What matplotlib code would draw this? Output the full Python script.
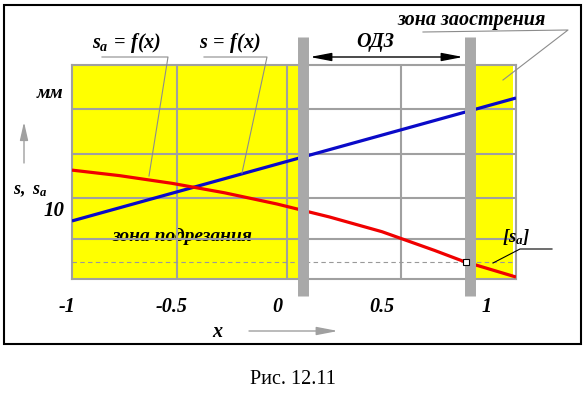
import matplotlib
matplotlib.use("Agg")
import numpy as np
import matplotlib.pyplot as plt
import matplotlib.transforms as mtrans
from matplotlib.lines import Line2D
from matplotlib.patches import Rectangle, FancyArrowPatch

# ---------------- data ----------------
tick_values = [-1, -0.5, 0, 0.5, 1]
tick_labels = ["-1", "-0.5", "0", "0.5", "1"]
x_grid = [-0.476, 0.048, 0.590]
y_grid = [14.64, 12.59, 10.59, 8.73]
x_limits = [-0.976, 1.138]
y_limits = [6.91, 16.64]

x_s = [-0.976, 1.138]
s_vals = [9.55, 15.14]

x_sa = [-0.976, -0.75, -0.5, -0.25, 0.0, 0.25, 0.5, 0.75, 0.886, 1.138]
sa_vals = [11.86, 11.61, 11.26, 10.83, 10.32, 9.73, 9.06, 8.21, 7.72, 7.0]

sa_allow = 7.68
x_odz = [0.126, 0.917]
y_label_value = 10

# ---------------- style ----------------
W, H = 586, 396
plt.rcParams['mathtext.fontset'] = 'custom'
plt.rcParams['mathtext.rm'] = 'Liberation Serif:bold:italic'
plt.rcParams['mathtext.it'] = 'Liberation Serif:bold:italic'
plt.rcParams['mathtext.bf'] = 'Liberation Serif:bold:italic'
BI = dict(family='Liberation Serif', weight='bold', style='italic')
GRID = '#A0A0A0'
BAR = '#A9A9A9'
YEL = '#FFFF00'


def fx(px):
    return px / W


def fy(py):
    return 1 - py / H


fig = plt.figure(figsize=(W / 100, H / 100), dpi=100)
ax = fig.add_axes([fx(72), fy(279), (516 - 72) / W, (279 - 65) / H])
ax.set_xlim(*x_limits)
ax.set_ylim(*y_limits)
ax.set_xticks([])
ax.set_yticks([])
for sp in ax.spines.values():
    sp.set_color(GRID)
    sp.set_linewidth(1.5)
    sp.set_zorder(2)

half_bar = 0.026
ax.axvspan(x_limits[0], x_odz[0] - half_bar, color=YEL, zorder=0, lw=0)
ax.axvspan(x_odz[1] + half_bar, x_limits[1] - 0.012, color=YEL, zorder=0, lw=0)

ax.text(-0.45, y_grid[3] - 0.09, "зона подрезания",
        ha='center', va='baseline', fontsize=14, zorder=1.5, **BI)

for xg in x_grid:
    ax.axvline(xg, color=GRID, lw=1.5, zorder=2)
for yg in y_grid:
    ax.axhline(yg, color=GRID, lw=1.5, zorder=2)

ax.axhline(sa_allow, xmax=(513 - 72) / 444, color='#999999', lw=0.8,
           dashes=(4, 3), zorder=2.5)

ax.plot(x_s, s_vals, color='#0A0AC8', lw=2.3, zorder=3, solid_capstyle='butt')
ax.plot(x_sa, sa_vals, color='#F00000', lw=2.3, zorder=3, solid_capstyle='butt')

for xo in x_odz:
    ax.axvline(xo, ymin=(279 - 296) / 214, ymax=(279 - 37) / 214, color=BAR,
               lw=7.9, zorder=4, clip_on=False, solid_capstyle='butt')

x_mark = np.interp(sa_allow, sa_vals[::-1], x_sa[::-1])
ax.plot([x_mark], [sa_allow], marker='s', ms=4, mfc='white', mec='black',
        mew=0.8, zorder=5, clip_on=False)

# tick labels
tr_x = mtrans.blended_transform_factory(ax.transData, fig.transFigure)
for v, lab in zip(tick_values, tick_labels):
    ax.text(v, fy(307), lab, transform=tr_x, ha='center', va='center',
            fontsize=14.5, **BI)

tr_y = mtrans.blended_transform_factory(fig.transFigure, ax.transData)
ax.text(fx(54), y_label_value, "10", transform=tr_y,
        ha='center', va='center', fontsize=15, **BI)

# texts in figure coordinates
fig.text(fx(127), fy(43), r"$s_a\,=\,f(x)$", ha='center', va='center', fontsize=14.5)
fig.text(fx(230), fy(43), r"$s\,=\,f(x)$", ha='center', va='center', fontsize=14.5)
fig.text(fx(375), fy(42), "ОДЗ", ha='center', va='center', fontsize=14.5, **BI)
fig.text(fx(472), fy(20), "зона заострения", ha='center', va='center', fontsize=14.5, **BI)
fig.text(fx(50), fy(93), "мм", ha='center', va='center', fontsize=14, **BI)
fig.text(fx(13), fy(190), r"$s,\ s_a$", ha='left', va='center', fontsize=13)
fig.text(fx(516), fy(237), r"$[s_a]$", ha='center', va='center', fontsize=13.5)
fig.text(fx(217), fy(332), "x", ha='center', va='center', fontsize=14.5, **BI)
fig.text(fx(293), fy(380), "Рис. 12.11", ha='center', va='center', fontsize=14.5,
         family='Liberation Serif')


# leader lines
def leader(pts, color, lw=0.8):
    xs = [fx(p[0]) for p in pts]
    ys = [fy(p[1]) for p in pts]
    fig.add_artist(Line2D(xs, ys, color=color, lw=lw, transform=fig.transFigure, zorder=6))


leader([(102, 57), (168, 57), (149, 176)], '#8C8C8C')
leader([(204, 57), (267, 57), (242, 173)], '#8C8C8C')
leader([(423, 32), (568, 30), (503, 80)], '#8C8C8C')
leader([(552, 249), (520, 249), (493, 263)], 'black')


# arrows
def arrow(p0, p1, style, color, hl, hw):
    a = FancyArrowPatch((fx(p0[0]), fy(p0[1])), (fx(p1[0]), fy(p1[1])),
                        transform=fig.transFigure,
                        arrowstyle=f"{style},head_length={hl},head_width={hw}",
                        mutation_scale=10, color=color, lw=1, shrinkA=0, shrinkB=0)
    fig.add_artist(a)


arrow((310, 57), (463, 57), '<|-|>', 'black', 1.3, 0.25)
arrow((249, 331), (338, 331), '-|>', '#A0A0A0', 1.3, 0.25)
arrow((24, 163), (24, 122), '-|>', '#A0A0A0', 1.1, 0.25)

# outer frame
fig.add_artist(Rectangle((fx(4), fy(344)), fx(581) - fx(4), fy(5) - fy(344),
                         transform=fig.transFigure, fill=False, ec='black', lw=1.5))

fig.savefig("out.png", dpi=100)
